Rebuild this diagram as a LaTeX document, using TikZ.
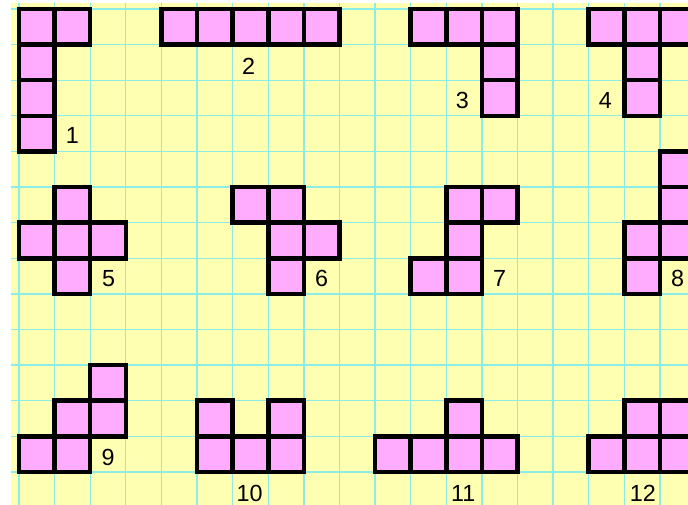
\documentclass[tikz,border=0pt]{standalone}
\usepackage{fontspec}
\setmainfont{Liberation Sans}
\definecolor{paperyellow}{RGB}{255,255,178}
\definecolor{gridcyan}{RGB}{140,236,232}
\definecolor{piecepink}{RGB}{255,172,255}

\begin{document}
\begin{tikzpicture}[x=26.7pt, y=-26.7pt,
    cellbox/.style={fill=piecepink, draw=black, line width=3.4pt},
    num/.style={font=\fontsize{17.5}{18}\selectfont}]
    \useasboundingbox (-0.534,-0.253) rectangle (18.79,13.93);
    % Langeliu popierius
    \fill[paperyellow] (-0.225,-0.17) rectangle (18.79,13.93);
    \foreach \x in {0,...,18} {
        \draw[gridcyan, line width=1pt] (\x,-0.17) -- (\x,13.93);
    }
    \foreach \y in {0,...,13} {
        \draw[gridcyan, line width=1pt] (-0.225,\y) -- (18.79,\y);
    }
    % Pirma eilute
    \foreach \c/\r in {0/0,1/0,0/1,0/2,0/3} \filldraw[cellbox] (\c,\r) rectangle ++(1,1);
    \foreach \c/\r in {4/0,5/0,6/0,7/0,8/0} \filldraw[cellbox] (\c,\r) rectangle ++(1,1);
    \foreach \c/\r in {11/0,12/0,13/0,13/1,13/2} \filldraw[cellbox] (\c,\r) rectangle ++(1,1);
    \foreach \c/\r in {16/0,17/0,18/0,17/1,17/2} \filldraw[cellbox] (\c,\r) rectangle ++(1,1);
    % Antra eilute
    \foreach \c/\r in {1/5,0/6,1/6,2/6,1/7} \filldraw[cellbox] (\c,\r) rectangle ++(1,1);
    \foreach \c/\r in {6/5,7/5,7/6,8/6,7/7} \filldraw[cellbox] (\c,\r) rectangle ++(1,1);
    \foreach \c/\r in {12/5,13/5,12/6,11/7,12/7} \filldraw[cellbox] (\c,\r) rectangle ++(1,1);
    \foreach \c/\r in {18/4,18/5,17/6,18/6,17/7} \filldraw[cellbox] (\c,\r) rectangle ++(1,1);
    % Trecia eilute
    \foreach \c/\r in {2/10,1/11,2/11,0/12,1/12} \filldraw[cellbox] (\c,\r) rectangle ++(1,1);
    \foreach \c/\r in {5/11,7/11,5/12,6/12,7/12} \filldraw[cellbox] (\c,\r) rectangle ++(1,1);
    \foreach \c/\r in {12/11,10/12,11/12,12/12,13/12} \filldraw[cellbox] (\c,\r) rectangle ++(1,1);
    \foreach \c/\r in {17/11,18/11,16/12,17/12,18/12} \filldraw[cellbox] (\c,\r) rectangle ++(1,1);
    % Numeriai
    \node[num] (n1) at (1.5,3.54) {1};
    \node[num] (n2) at (6.45,1.6) {2};
    \node[num] (n3) at (12.45,2.58) {3};
    \node[num] (n4) at (16.47,2.56) {4};
    \node[num] (n5) at (2.52,7.58) {5};
    \node[num] (n6) at (8.5,7.58) {6};
    \node[num] (n7) at (13.5,7.58) {7};
    \node[num] (n8) at (18.5,7.58) {8};
    \node[num] (n9) at (2.5,12.6) {9};
    \node[num] (n10) at (6.48,13.6) {10};
    \node[num] (n11) at (12.48,13.6) {11};
    \node[num] (n12) at (17.52,13.6) {12};
\end{tikzpicture}
\end{document}
